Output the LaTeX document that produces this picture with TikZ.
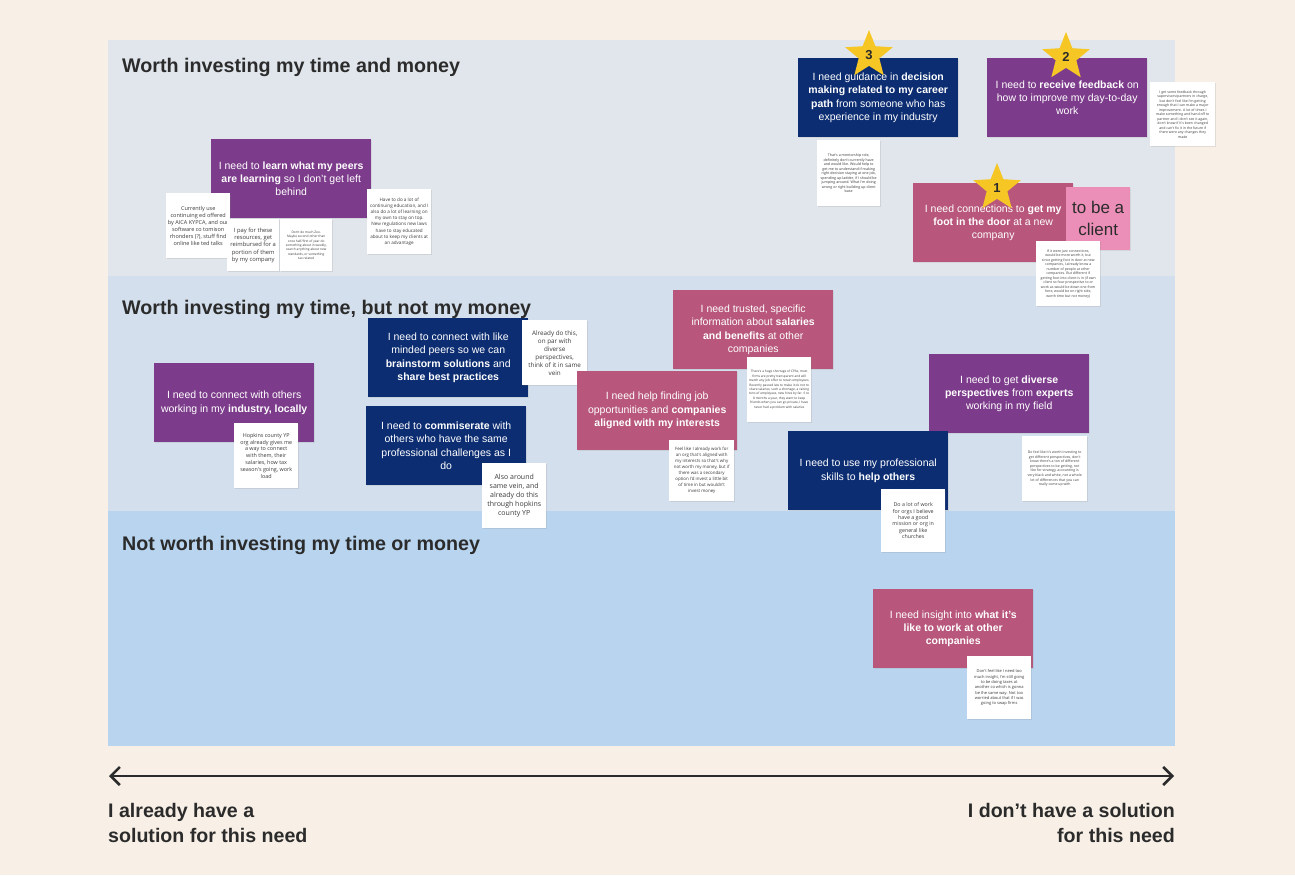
\documentclass[tikz,border=0pt]{standalone}
\usepackage{fontspec}
\setmainfont{Liberation Sans}
\newfontfamily\notefont{Open Sans}
\usetikzlibrary{shapes.geometric,shadows,arrows.meta}

\definecolor{paper}{HTML}{F8F0E6}
\definecolor{bandtop}{HTML}{E1E6EC}
\definecolor{bandmid}{HTML}{D3DFEC}
\definecolor{bandlow}{HTML}{B8D4EE}
\definecolor{npurple}{HTML}{7D3C8B}
\definecolor{nnavy}{HTML}{0C2D72}
\definecolor{nrose}{HTML}{B8577B}
\definecolor{npink}{HTML}{EC8FB8}
\definecolor{stargold}{HTML}{F6C624}
\definecolor{ink}{HTML}{2B2B2B}
\definecolor{notetext}{HTML}{3A3A3A}

\newcommand\nf[2]{\notefont\fontsize{#1}{#2}\selectfont}

\tikzset{
  heading/.style={anchor=base west, inner sep=0pt, text=ink, font=\fontsize{19.7}{23}\selectfont\bfseries},
  axislabel/.style={inner sep=0pt, text=ink, font=\fontsize{19.6}{25}\selectfont\bfseries},
  need/.style={anchor=north west, minimum width=160pt, minimum height=79pt, inner sep=0pt,
    align=center, text=white, font=\fontsize{10.5}{13.4}\selectfont,
    drop shadow={shadow xshift=0.7pt, shadow yshift=-0.9pt, opacity=0.15}},
  purplebox/.style={need, fill=npurple},
  navybox/.style={need, fill=nnavy},
  rosebox/.style={need, fill=nrose},
  note/.style={anchor=north west, fill=white, minimum width=64pt, minimum height=65pt, inner sep=0pt,
    align=center, text=notetext,
    drop shadow={shadow xshift=0.7pt, shadow yshift=-0.9pt, opacity=0.18}},
  starmark/.style={star, star points=5, star point ratio=2.3, minimum size=50pt, inner sep=0pt,
    fill=stargold, text=ink, font=\fontsize{13}{13}\selectfont\bfseries},
  axis/.style={line width=2.6pt, draw=ink, {Straight Barb[length=9pt,width=18pt]}-{Straight Barb[length=9pt,width=18pt]}}
}

\begin{document}
\begin{tikzpicture}[x=1pt, y=-1pt]
%%%%% START %%%%%

\fill[paper] (0,0) rectangle (1295,875);
\useasboundingbox (0,0) rectangle (1295,875);

\fill[bandtop] (108,40) rectangle (1175,276);
\fill[bandmid] (108,276) rectangle (1175,511);
\fill[bandlow] (108,511) rectangle (1175,746);

\node[heading] (timemoney) at (122,73) {Worth investing my time and money};
\node[heading] (timeonly) at (122,314) {Worth investing my time, but not my money};
\node[heading] (neither) at (122,550) {Not worth investing my time or money};

% top band
\node[purplebox] (learnpeers) at (211,139) {I need to \textbf{learn what my peers}\\ \textbf{are learning} so I don't get left\\ behind};
\node[note, font={\nf{5.5}{6.9}}] (ced) at (166,193) {Currently use\\ continuing ed offered\\ by AICA KYPCA, and our\\ software co tomison\\ rhonders (?), stuff find\\ online like ted talks};
\node[note, minimum width=52pt, minimum height=52pt, font={\nf{5.8}{7.3}}] (pay) at (227,219) {I pay for these\\ resources, get\\ reimbursed for a\\ portion of them\\ by my company};
\node[note, minimum width=52pt, minimum height=52pt, font={\nf{3.2}{4.3}}] (zoo) at (280,219) {Don't do much Zoo.\\ Maybe second other than\\ once half/first of year do\\ something about in weekly,\\ search anything about new\\ standards, or something\\ tax related};
\node[note, font={\nf{4.6}{6.1}}] (regs) at (367,189) {Have to do a lot of\\ continuing education, and I\\ also do a lot of learning on\\ my own to stay on top.\\ New regulations new laws\\ have to stay educated\\ about to keep my clients at\\ an advantage};

\node[navybox] (guidance) at (798,58) {I need guidance in \textbf{decision}\\ \textbf{making related to my career}\\ \textbf{path} from someone who has\\ experience in my industry};
\node[note, minimum width=63pt, minimum height=66pt, font={\nf{3.6}{4.5}}] (mentor) at (817,140) {That's a mentorship role,\\ definitely don't currently have\\ and would like. Would help to\\ get me to understand if making\\ right decision staying at one job,\\ spending up ladder, if I should be\\ jumping around. What I'm doing\\ wrong or right building up client\\ base};

\node[purplebox] (feedback) at (987,58) {I need to \textbf{receive feedback} on\\ how to improve my day-to-day\\ work};
\node[note, minimum width=65pt, minimum height=64pt, font={\nf{3.5}{4.5}}] (gotfeedback) at (1150,82) {I get some feedback through\\ supervisors/partners in charge,\\ but don't feel like I'm getting\\ enough that I can make a major\\ improvement. A lot of times I\\ make something and hand off to\\ partner and I don't see it again,\\ don't know if it's been changed\\ and can't fix it in the future if\\ there were any changes they\\ made};

\node[rosebox] (footdoor) at (913,183) {I need connections to \textbf{get my}\\ \textbf{foot in the door} at a new\\ company};
\node[anchor=north west, fill=npink, minimum width=64pt, minimum height=63pt, inner sep=0pt, align=center,
  text=ink, font=\fontsize{17}{22}\selectfont,
  drop shadow={shadow xshift=0.7pt, shadow yshift=-0.9pt, opacity=0.15}] (client) at (1066,187) {to be a\\ client};
\node[note, font={\nf{3.5}{4.5}}] (knowpeople) at (1036,241) {If it were just connections,\\ would be more worth it, but\\ since getting foot in door at new\\ companies, I already know a\\ number of people at other\\ companies. But different if\\ getting foot into client is in (if own\\ client so four prospective to or\\ work as would be down one from\\ here, would be on right side,\\ worth time but not money)};

\node[starmark] (third) at (869,55) {3};
\node[starmark] (second) at (1066,57) {2};
\node[starmark] (first) at (997,188) {1};

% middle band
\node[navybox] (brainstorm) at (368,318) {I need to connect with like\\ minded peers so we can\\ \textbf{brainstorm solutions} and\\ \textbf{share best practices}};
\node[note, minimum width=65pt, font={\nf{6.3}{8}}] (alreadydo) at (522,320) {Already do this,\\ on par with\\ diverse\\ perspectives,\\ think of it in same\\ vein};

\node[rosebox] (salaries) at (673,290) {I need trusted, specific\\ information about \textbf{salaries}\\ \textbf{and benefits} at other\\ companies};
\node[rosebox] (jobs) at (577,371) {I need help finding job\\ opportunities and \textbf{companies}\\ \textbf{aligned with my interests}};
\node[note, font={\nf{3.2}{4.4}}] (shortage) at (747,357) {There's a huge shortage of CPAs, most\\ firms are pretty transparent and will\\ match any job offer to retain employees.\\ Recently passed law to make it ok not to\\ share salaries; such a shortage, a raising\\ tons of employees, new hires by far. 6 to\\ 8 months a year, they want to keep\\ friends when you can go private, I have\\ never had a problem with salaries};
\node[note, minimum width=65pt, minimum height=61pt, font={\nf{4.4}{6}}] (aligned) at (669,440) {Feel like I already work for\\ an org that's aligned with\\ my interests so that's why\\ not worth my money, but if\\ there was a secondary\\ option I'd invest a little bit\\ of time in but wouldn't\\ invest money};

\node[purplebox] (locally) at (154,363) {I need to connect with others\\ working in my \textbf{industry, locally}};
\node[note, font={\nf{5.4}{6.8}}] (hopkins) at (234,423) {Hopkins county YP\\ org already gives me\\ a way to connect\\ with them, their\\ salaries, how tax\\ season's going, work\\ load};

\node[navybox] (commiserate) at (366,406) {I need to \textbf{commiserate} with\\ others who have the same\\ professional challenges as I\\ do};
\node[note, font={\nf{7}{9.2}}] (samevein) at (482,463) {Also around\\ same vein, and\\ already do this\\ through hopkins\\ county YP};

\node[purplebox] (perspectives) at (929,354) {I need to get \textbf{diverse}\\ \textbf{perspectives} from \textbf{experts}\\ working in my field};
\node[note, minimum width=65pt, font={\nf{3.5}{4.6}}] (strategy) at (1022,436) {Do feel like it's worth investing to\\ get different perspectives, don't\\ know there's a ton of different\\ perspectives to be getting, not\\ like for strategy, accounting is\\ very black and white, not a whole\\ lot of differences that you can\\ really come up with};

\node[navybox] (helpothers) at (788,431) {I need to use my professional\\ skills to \textbf{help others}};
\node[note, minimum height=63pt, font={\nf{5.3}{6.4}}] (churches) at (881,489) {Do a lot of work\\ for orgs I believe\\ have a good\\ mission or org in\\ general like\\ churches};

% lower band
\node[rosebox] (insight) at (873,589) {I need insight into \textbf{what it's}\\ \textbf{like to work at other}\\ \textbf{companies}};
\node[note, minimum height=63pt, font={\nf{4}{5.3}}] (swapfirms) at (967,656) {Don't feel like I need too\\ much insight, I'm still going\\ to be doing taxes at\\ another co which is gonna\\ be the same way. Not too\\ worried about that if I was\\ going to swap firms};

% axis
\coordinate (solved) at (109,776);
\coordinate (unsolved) at (1174,776);
\draw[axis] (solved) -- (unsolved);

\node[axislabel, anchor=north west, align=left] (havesolution) at (108,803) {I already have a\\ solution for this need};
\node[axislabel, anchor=north east, align=right] (nosolution) at (1175,803) {I don't have a solution\\ for this need};

%%%%% END %%%%%
\end{tikzpicture}
\end{document}
